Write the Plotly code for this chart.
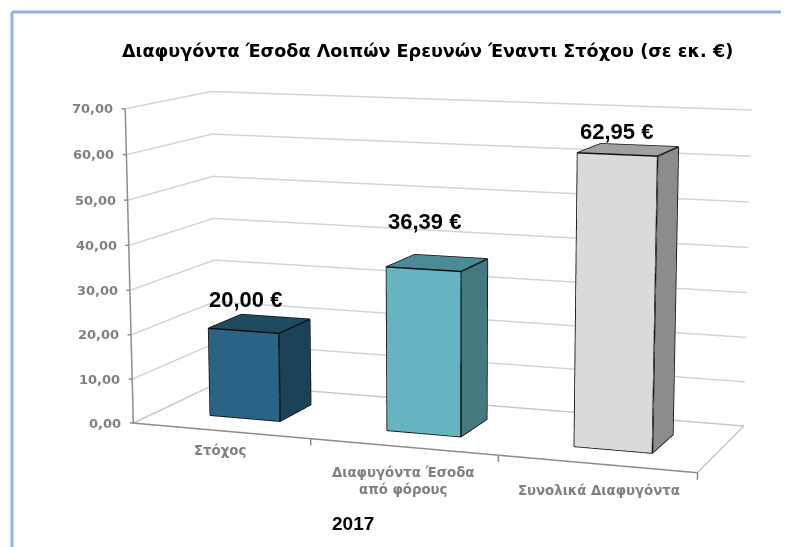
import plotly.graph_objects as go

categories = ["Στόχος", "Διαφυγόντα Έσοδα<br>από φόρους", "Συνολικά Διαφυγόντα"]
values = [20.00, 36.39, 62.95]
value_labels = ["20,00 €", "36,39 €", "62,95 €"]
z_ticks = [0, 10, 20, 30, 40, 50, 60, 70]
z_tick_labels = ["0,00", "10,00", "20,00", "30,00", "40,00", "50,00", "60,00", "70,00"]
title_text = "Διαφυγόντα Έσοδα Λοιπών Ερευνών Έναντι Στόχου (σε εκ. €)"
year_text = "2017"

# The page sits 8 px inside the window, so the figure is sized to what remains.
FW, FH = 781, 539
OFF = 8
XR = (-4.0, 8.0); YR = (-3.0, 4.0); ZR = (-6.0, 73.0)

# Camera and the oblique cabinet skew of the 3D box.
EYE = (-0.1515, -1.6758, 1.1835)
CEN = (-0.3283, -0.1739, 0.2470)
UP_X = -0.0007
ASPECT = (7.6516, 1.6562, 79.0 / 73.0)
KXY, KXZ, KYZ = 0.3414, -0.1024, 2.2022
BAR_W, DEPTH_0, DEPTH_1 = 0.4011, 0.2941, 0.6983


def sc(x, y, z):
    return (x + KXY * y + KXZ * z / 70, y + KYZ * z / 70, z)


fig = go.Figure()


def line(xs, ys, zs, color, width):
    pts = [sc(a, b, c) for a, b, c in zip(xs, ys, zs)]
    fig.add_trace(go.Scatter3d(x=[p[0] for p in pts], y=[p[1] for p in pts], z=[p[2] for p in pts], mode="lines",
                               line=dict(color=color, width=width), hoverinfo="skip", showlegend=False))


GRID = "#d4d4d4"; AXIS = "#8c8c8c"
for t in z_ticks:
    if t > 0:
        line([0, 0, 3], [0, 1, 1], [t, t, t], GRID, 3)
line([0, 0, 3, 3], [0, 1, 1, 0], [0, 0, 0, 0], "#c8c8c8", 3)
line([0, 0], [0, 0], [0, 70], AXIS, 3)
line([0, 3], [0, 0], [0, 0], AXIS, 3)
for t in z_ticks:
    line([-0.02, 0], [0, 0], [t, t], AXIS, 3)
for k in [1, 2, 3]:
    line([k, k], [0, 0], [-1.5, 0], AXIS, 3)

front = ["#2a6384", "#66b4c2", "#dadada"]
side = ["#1b4256", "#44797f", "#8c8c8c"]
top = ["#1f4b61", "#4a8b95", "#a0a0a0"]
for n, h in enumerate(values):
    xa, xb = n + .5 - BAR_W / 2, n + .5 + BAR_W / 2
    vx = [xa, xb, xb, xa, xa, xb, xb, xa]
    vy = [DEPTH_0, DEPTH_0, DEPTH_1, DEPTH_1, DEPTH_0, DEPTH_0, DEPTH_1, DEPTH_1]
    vz = [0, 0, 0, 0, h, h, h, h]
    I = [0, 0, 1, 1, 4, 4, 3, 3, 0, 0, 2, 2]
    J = [1, 5, 2, 6, 5, 6, 2, 6, 3, 7, 3, 7]
    K = [5, 4, 6, 5, 6, 7, 6, 7, 7, 4, 7, 6]
    fc = [front[n]] * 2 + [side[n]] * 2 + [top[n]] * 2 + ["#555555"] * 6
    pts = [sc(a, b, c) for a, b, c in zip(vx, vy, vz)]
    fig.add_trace(go.Mesh3d(x=[p[0] for p in pts], y=[p[1] for p in pts], z=[p[2] for p in pts], i=I, j=J, k=K,
                            facecolor=fc, flatshading=True,
                            lighting=dict(ambient=1, diffuse=0, specular=0, fresnel=0, roughness=1),
                            hoverinfo="skip", showlegend=False))
    order = [0, 1, 5, 4, 0, 3, 7, 4, 5, 6, 7, 3, 2, 6, 2, 1]
    line([vx[o] for o in order], [vy[o] for o in order], [vz[o] for o in order], "#101010", 3)

ann = []
for t, s in zip(z_ticks, z_tick_labels):
    a = sc(0, 0, t)
    ann.append(dict(x=a[0], y=a[1], z=a[2], text=s, showarrow=False, xanchor="right", yanchor="middle", xshift=-10,
                    font=dict(family="DejaVu Sans", size=13, color="#808080", weight="bold")))
cat_shift = [(-1, -20), (0, -34), (2, -27)]
for n, s in enumerate(categories):
    a = sc(n + .5, 0, 0)
    ann.append(dict(x=a[0], y=a[1], z=a[2], text=s, showarrow=False, yanchor="middle",
                    xshift=cat_shift[n][0], yshift=cat_shift[n][1],
                    font=dict(family="DejaVu Sans", size=13.3, color="#808080", weight="bold")))
val_shift = [(2, 31), (1, 48), (-1, 23)]
for n, s in enumerate(value_labels):
    a = sc(n + .5, DEPTH_0, values[n])
    ann.append(dict(x=a[0], y=a[1], z=a[2], text=s, showarrow=False, yanchor="middle",
                    xshift=val_shift[n][0], yshift=val_shift[n][1],
                    font=dict(family="Liberation Sans", size=22, color="#000000", weight="bold")))

ax = dict(visible=False, showgrid=False, zeroline=False, showspikes=False)


def px(x):
    return (x - OFF) / FW


def py(y):
    return 1 - (y - OFF) / FH


BORDER = dict(color="#8db4e8", width=3)
fig.update_layout(
    width=FW, height=FH, margin=dict(l=0, r=0, t=0, b=0), paper_bgcolor="white", showlegend=False,
    scene=dict(domain=dict(x=[0, 1], y=[0, 1]),
               xaxis=dict(range=list(XR), **ax), yaxis=dict(range=list(YR), **ax), zaxis=dict(range=list(ZR), **ax),
               aspectmode="manual", aspectratio=dict(x=ASPECT[0], y=ASPECT[1], z=ASPECT[2]),
               camera=dict(eye=dict(x=EYE[0], y=EYE[1], z=EYE[2]), center=dict(x=CEN[0], y=CEN[1], z=CEN[2]),
                           up=dict(x=UP_X, y=0, z=1), projection=dict(type="perspective")),
               annotations=ann),
    annotations=[
        dict(text=title_text, xref="paper", yref="paper", x=px(427), y=py(51), showarrow=False,
             xanchor="center", yanchor="middle",
             font=dict(family="DejaVu Sans", size=17.6, color="#000", weight="bold")),
        dict(text=year_text, xref="paper", yref="paper", x=px(353), y=py(523), showarrow=False,
             xanchor="center", yanchor="middle",
             font=dict(family="Liberation Sans", size=19, color="#000", weight="bold")),
    ],
    shapes=[dict(type="line", xref="paper", yref="paper", x0=px(12), x1=1, y0=py(12), y1=py(12), line=BORDER),
            dict(type="line", xref="paper", yref="paper", x0=px(12), x1=px(12), y0=0, y1=py(12), line=BORDER)],
)
fig.write_html("out.html")
